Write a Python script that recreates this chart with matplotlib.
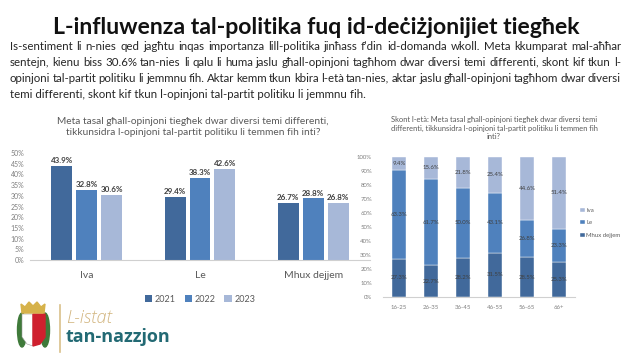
import numpy as np
import matplotlib
matplotlib.use("Agg")
import matplotlib.pyplot as plt
from matplotlib.patches import Polygon, Ellipse

plt.rcParams['font.family'] = ['Lato', 'DejaVu Sans']

# data - left chart
answers = ["Iva", "Le", "Mhux dejjem"]
years = ["2021", "2022", "2023"]
vals_2021 = [43.9, 29.4, 26.7]
vals_2022 = [32.8, 38.3, 28.8]
vals_2023 = [30.6, 42.6, 26.8]

# data - right chart (by age)
ages = ["16-25", "26-35", "36-45", "46-55", "56-65", "66+"]
age_mhux = [27.3, 22.7, 28.2, 31.5, 28.5, 25.3]
age_le = [63.3, 61.7, 50.0, 43.1, 26.8, 23.3]
age_iva = [9.4, 15.6, 21.8, 25.4, 44.6, 51.4]

title = "L-influwenza tal-politika fuq id-deċiżjonijiet tiegħek"
para = [
    "Is-sentiment li n-nies qed jagħtu inqas importanza lill-politika jinħass f’din id-domanda wkoll. Meta kkumparat mal-aħħar",
    "sentejn, kienu biss 30.6% tan-nies li qalu li huma jaslu għall-opinjoni tagħhom dwar diversi temi differenti, skont kif tkun l-",
    "opinjoni tal-partit politiku li jemmnu fih. Aktar kemm tkun kbira l-età tan-nies, aktar jaslu għall-opinjoni tagħhom dwar diversi",
    "temi differenti, skont kif tkun l-opinjoni tal-partit politiku li jemmnu fih.",
]
left_title = "Meta tasal għall-opinjoni tiegħek dwar diversi temi differenti,\ntikkunsidra l-opinjoni tal-partit politiku li temmen fih inti?"
right_title = ("Skont l-età: Meta tasal għall-opinjoni tiegħek dwar diversi temi\n"
               "differenti, tikkunsidra l-opinjoni tal-partit politiku li temmen fih\ninti?")

c_dark = "#41699b"
c_mid = "#4f81bd"
c_light = "#a7b8d8"
grey = "#7f7f7f"

W, H = 632, 355
fig = plt.figure(figsize=(W / 100, H / 100), dpi=100)
bg = fig.add_axes([0, 0, 1, 1])
bg.set_xlim(0, W)
bg.set_ylim(H, 0)
bg.axis("off")
r = fig.canvas.get_renderer()


def fit_size(txt, width, **kw):
    t = bg.text(0, 0, txt, fontsize=10, **kw)
    w = t.get_window_extent(r).width
    t.remove()
    return 10 * width / w


# title
ts = fit_size(title, 528, fontweight="bold")
bg.text(316, 28, title, fontsize=ts, fontweight="bold", ha="center", va="center", color="#111111")

# justified paragraph
ps = fit_size(para[0], 600)
ys = [46, 62, 78, 94]
for i, line in enumerate(para):
    y = ys[i]
    if i == len(para) - 1:
        bg.text(10, y, line, fontsize=ps, va="center", color="#262626")
        continue
    words = line.split(" ")
    tx = [bg.text(0, y, w, fontsize=ps, va="center", color="#262626") for w in words]
    widths = [t.get_window_extent(r).width for t in tx]
    gap = (621 - 10 - sum(widths)) / (len(words) - 1)
    x = 10
    for t, w in zip(tx, widths):
        t.set_x(x)
        x += w + gap

# ---- left chart
bg.text(193, 127, left_title, fontsize=7.3, ha="center", va="center", color="#595959",
        linespacing=1.35)
ax = fig.add_axes([30 / W, 1 - 260 / H, (370 - 30) / W, (260 - 153) / H])
x = np.arange(len(answers))
bw, off = 0.185, 0.22
for k, (vals, col) in enumerate(zip([vals_2021, vals_2022, vals_2023], [c_dark, c_mid, c_light])):
    bars = ax.bar(x + (k - 1) * off, vals, bw, color=col, label=years[k])
    for b, v in zip(bars, vals):
        ax.text(b.get_x() + b.get_width() / 2, v + 0.8, f"{v}%", ha="center", va="bottom",
                fontsize=5.8, fontweight="bold", color="#404040")
ax.set_ylim(0, 50)
ax.set_xlim(-0.5, 2.5)
ax.set_yticks(range(0, 51, 5))
ax.set_yticklabels([f"{v}%" for v in range(0, 51, 5)])
ax.set_xticks(x)
ax.set_xticklabels(answers)
ax.tick_params(axis="y", labelsize=5, colors=grey, length=0, pad=4)
ax.tick_params(axis="x", labelsize=7.5, colors="#595959", length=0, pad=8)
for s in ["top", "right", "left"]:
    ax.spines[s].set_visible(False)
ax.spines["bottom"].set_color("#d0d0d0")
ax.patch.set_alpha(0)
ax.legend(loc="upper center", bbox_to_anchor=(0.5, -0.25), ncol=3, frameon=False,
          fontsize=6.5, handlelength=0.8, handleheight=0.8, handletextpad=0.3,
          columnspacing=1.0, labelcolor="#595959")

# ---- right chart
bg.text(494, 128, right_title, fontsize=5.4, ha="center", va="center", color="#595959",
        linespacing=1.3)
ax2 = fig.add_axes([383 / W, 1 - 297 / H, 192 / W, 140 / H])
xa = np.arange(len(ages))
bw2 = 0.42
mh = np.array(age_mhux)
le = np.array(age_le)
iv = np.array(age_iva)
ax2.bar(xa, mh, bw2, color=c_dark, label="Mhux dejjem", edgecolor="white", linewidth=0.3)
ax2.bar(xa, le, bw2, bottom=mh, color=c_mid, label="Le", edgecolor="white", linewidth=0.3)
ax2.bar(xa, iv, bw2, bottom=mh + le, color=c_light, label="Iva", edgecolor="white", linewidth=0.3)
for i in range(len(ages)):
    for bottom, v in [(0, mh[i]), (mh[i], le[i]), (mh[i] + le[i], iv[i])]:
        ax2.text(xa[i], bottom + v / 2, f"{v:.1f}%", ha="center", va="center",
                 fontsize=4.3, color="#404040")
ax2.set_ylim(0, 100)
ax2.set_xlim(-0.5, len(ages) - 0.5)
ax2.set_yticks(range(0, 101, 10))
ax2.set_yticklabels([f"{v}%" for v in range(0, 101, 10)])
ax2.set_xticks(xa)
ax2.set_xticklabels(ages)
ax2.tick_params(axis="y", labelsize=4.3, colors=grey, length=0, pad=8)
ax2.tick_params(axis="x", labelsize=4.3, colors=grey, length=0, pad=6)
for s in ["top", "right", "left"]:
    ax2.spines[s].set_visible(False)
ax2.spines["bottom"].set_color("#d0d0d0")
ax2.patch.set_alpha(0)
h, l = ax2.get_legend_handles_labels()
ax2.legend(h[::-1], l[::-1], loc="center left", bbox_to_anchor=(1.0, 0.53), frameon=False,
           fontsize=4.3, handlelength=0.7, handleheight=0.7, handletextpad=0.3,
           labelspacing=1.2, labelcolor="#595959")

# ---- logo
bg.add_patch(Ellipse((22, 330), 9, 34, color="#3f7a3a", zorder=1))
bg.add_patch(Ellipse((45, 330), 9, 34, color="#3f7a3a", zorder=1))
bg.add_patch(Polygon([(22, 314), (33, 314), (33, 346), (27, 344), (22, 337)], color="white",
                     ec="#999999", lw=0.4, zorder=2))
bg.add_patch(Polygon([(33, 314), (45, 314), (45, 337), (40, 344), (33, 346)], color="#cf202e",
                     zorder=2))
bg.add_patch(Polygon([(22, 313), (21, 304), (25, 307), (29, 302), (33, 306), (37, 302), (41, 307),
                      (45, 304), (44, 313)], color="#d6b24a", zorder=3))
bg.plot([60, 60], [305, 352], color="#d9c08a", lw=1.2)
bg.text(66, 318, "L-istat", fontsize=13, fontstyle="italic", fontweight="light", color="#d2b57f",
        va="center", family=["Open Sans", "DejaVu Sans"])
bg.text(66, 337, "tan-nazzjon", fontsize=13, fontweight="bold", color="#236a74", va="center",
        family=["Open Sans", "DejaVu Sans"])

fig.savefig("out.png", dpi=100)
